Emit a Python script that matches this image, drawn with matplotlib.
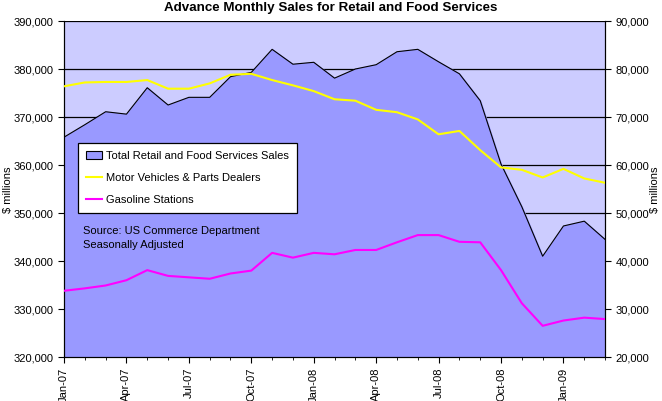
import matplotlib
matplotlib.use("Agg")
import matplotlib.pyplot as plt
import matplotlib.ticker as mticker
from matplotlib.patches import Patch
from matplotlib.lines import Line2D

plt.rcParams["font.family"] = ["Liberation Sans", "DejaVu Sans"]

# ── Données ───────────────────────────────────────────────────────────────────
months = ["Jan-07", "Feb-07", "Mar-07", "Apr-07", "May-07", "Jun-07", "Jul-07",
          "Aug-07", "Sep-07", "Oct-07", "Nov-07", "Dec-07", "Jan-08", "Feb-08",
          "Mar-08", "Apr-08", "May-08", "Jun-08", "Jul-08", "Aug-08", "Sep-08",
          "Oct-08", "Nov-08", "Dec-08", "Jan-09", "Feb-09", "Mar-09"]

total_sales = [365800, 368400, 371100, 370600, 376100, 372500, 374100,
               374100, 378400, 379300, 384100, 381000, 381400, 378100,
               380000, 380900, 383600, 384100, 381500, 379000, 373400,
               360200, 351300, 341000, 347300, 348300, 344500]

motor_vehicles = [76400, 77200, 77300, 77300, 77700, 75900, 75900,
                  77000, 78800, 79000, 77700, 76600, 75400, 73700,
                  73400, 71500, 71000, 69500, 66400, 67100, 63100,
                  59500, 59000, 57400, 59200, 57200, 56300]

gasoline = [33800, 34300, 34900, 36000, 38100, 36900, 36600,
            36300, 37400, 38000, 41700, 40700, 41700, 41400,
            42300, 42300, 43900, 45400, 45400, 44000, 43900,
            38100, 31200, 26500, 27600, 28200, 27900]

x = list(range(len(months)))

# ── Figure ───────────────────────────────────────────────────────────────────
fig = plt.figure(figsize=(6.62, 4.01), dpi=100)
ax = fig.add_axes([0.0967, 0.1097, 0.8173, 0.8379])
ax.set_facecolor("#CCCCFF")

for val in range(330000, 390001, 10000):
    ax.axhline(val, color="black", linewidth=0.9, zorder=1)

ax.fill_between(x, 320000, total_sales, color="#9999FF", zorder=2)
ax.plot(x, total_sales, color="black", linewidth=0.8, zorder=3)

ax.set_xlim(0, len(months) - 1)
ax.set_ylim(320000, 390000)
ax.yaxis.set_major_locator(mticker.MultipleLocator(10000))
ax.yaxis.set_major_formatter(mticker.StrMethodFormatter("{x:,.0f}"))
ax.set_xticks(x[::3])
ax.set_xticklabels(months[::3], rotation=90)
ax.set_xticks(x, minor=True)
ax.tick_params(axis="both", labelsize=8, length=4, width=0.8, color="black")
ax.tick_params(axis="x", which="minor", length=2.5)
ax.spines["top"].set_visible(False)

ax2 = ax.twinx()
ax2.plot(x, motor_vehicles, color="#FFFF00", linewidth=1.5, zorder=4)
ax2.plot(x, gasoline, color="#FF00FF", linewidth=1.5, zorder=4)
ax2.set_ylim(20000, 90000)
ax2.yaxis.set_major_locator(mticker.MultipleLocator(10000))
ax2.yaxis.set_major_formatter(mticker.StrMethodFormatter("{x:,.0f}"))
ax2.tick_params(axis="y", labelsize=8, length=4, width=0.8)
ax2.spines["top"].set_visible(False)

fig.text(8 / 662, 1 - 190 / 401, "$ millions", rotation=90, fontsize=8,
         ha="center", va="center")
fig.text(655 / 662, 1 - 190 / 401, "$ millions", rotation=90, fontsize=8,
         ha="center", va="center")

handles = [Patch(facecolor="#9999FF", edgecolor="black", linewidth=0.8),
           Line2D([], [], color="#FFFF00", linewidth=1.5),
           Line2D([], [], color="#FF00FF", linewidth=1.5)]
labels = ["Total Retail and Food Services Sales",
          "Motor Vehicles & Parts Dealers",
          "Gasoline Stations"]
leg = ax2.legend(handles, labels, loc="upper left", bbox_to_anchor=(0.026, 0.637),
                 borderaxespad=0, fontsize=8, frameon=True, fancybox=False,
                 framealpha=1, edgecolor="black", handlelength=1.45,
                 handletextpad=0.35, labelspacing=1.1, borderpad=0.7)
leg.get_frame().set_linewidth(0.9)

ax2.text(0.035, 0.39, "Source: US Commerce Department\nSeasonally Adjusted",
         transform=ax2.transAxes, fontsize=8, va="top", linespacing=1.5)

fig.suptitle("Advance Monthly Sales for Retail and Food Services",
             fontsize=9.6, fontweight="bold", y=0.995)

fig.savefig("out.png", dpi=100)
